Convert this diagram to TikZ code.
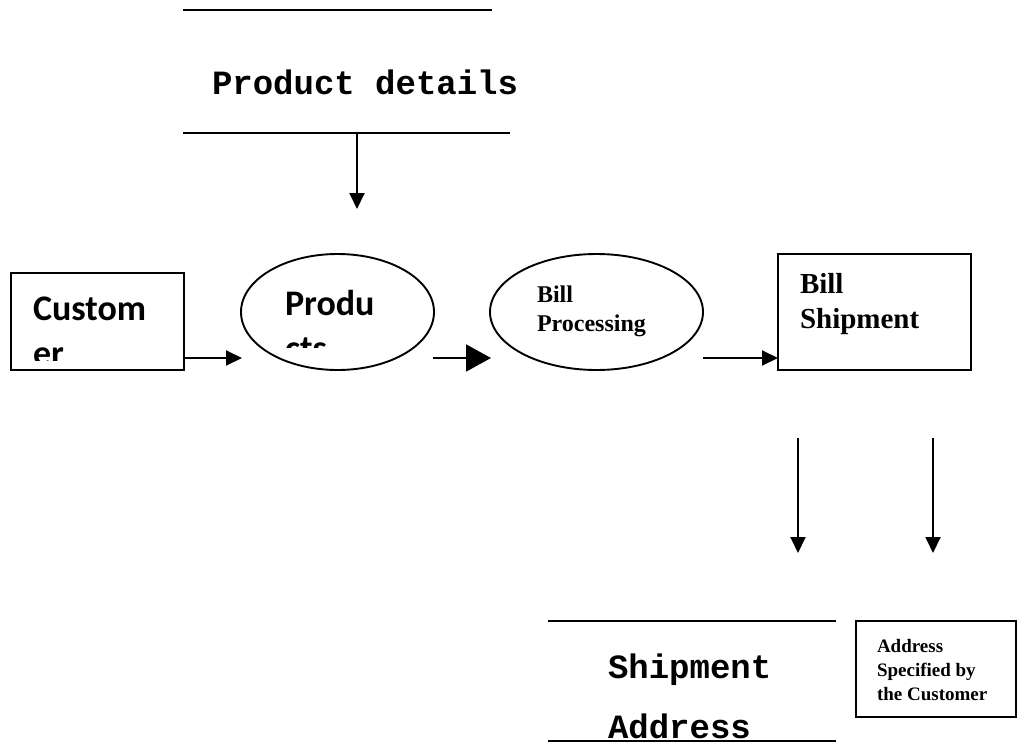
\documentclass[tikz,border=0pt]{standalone}
\usepackage{fontspec}
\setmainfont{Liberation Serif}
\newfontfamily\calibfont{Carlito}
\newfontfamily\courfont{Liberation Mono}
\usetikzlibrary{arrows.meta,shapes.geometric}
\begin{document}
\begin{tikzpicture}[x=1pt,y=-1pt,line width=1.9pt,
  lab/.style={inner sep=0pt,outer sep=0pt,anchor=base west},
  calibtxt/.style={lab,font=\calibfont\bfseries\fontsize{36}{45}\selectfont},
  courtxt/.style={lab,font=\courfont\bfseries\fontsize{34}{40}\selectfont},
  timesbig/.style={lab,font=\bfseries\fontsize{29}{35}\selectfont},
  timesmid/.style={lab,font=\bfseries\fontsize{24}{29}\selectfont},
  timessmall/.style={lab,font=\bfseries\fontsize{19}{24}\selectfont},
  boxshape/.style={draw,rectangle,inner sep=0pt,outer sep=0pt},
  ellshape/.style={draw,ellipse,inner sep=0pt,outer sep=0pt},
  arr/.style={-{Triangle[width=15pt,length=16pt]}},
  bigarr/.style={-{Triangle[width=27pt,length=25pt]}}]
\useasboundingbox (0,0) rectangle (1018,744);

% Product details data store
\coordinate (pdtl) at (183,10);
\coordinate (pdtr) at (492,10);
\coordinate (pdbl) at (183,133);
\coordinate (pdbr) at (510,133);
\draw (pdtl) -- (pdtr);
\draw (pdbl) -- (pdbr);
\node[courtxt] (pdtxt) at (212,94) {Product details};
\coordinate (pdout) at (357,133);
\coordinate (pdin) at (357,209);
\draw[arr] (pdout) -- (pdin);

% Customer
\node[boxshape,minimum width=173pt,minimum height=97pt] (cust) at (97.5,321.5) {};
\begin{scope}
\clip (11,273) rectangle (184,360);
\node[calibtxt] (custa) at (33,320) {Custom};
\node[calibtxt] (custb) at (33,365) {er};
\end{scope}

% Products
\node[ellshape,minimum width=193pt,minimum height=116pt] (prod) at (337.5,312) {};
\begin{scope}
\clip (241,254) rectangle (434,347);
\node[calibtxt] (proda) at (285,315) {Produ};
\node[calibtxt] (prodb) at (285,360) {cts};
\end{scope}

% Bill Processing
\node[ellshape,minimum width=213pt,minimum height=116pt] (billp) at (596.5,312) {};
\node[timesmid] (billpa) at (537,302) {Bill};
\node[timesmid] (billpb) at (537,331) {Processing};

% Bill Shipment
\node[boxshape,minimum width=193pt,minimum height=116pt] (bills) at (874.5,312) {};
\node[timesbig] (billsa) at (800,293) {Bill};
\node[timesbig] (billsb) at (800,328) {Shipment};

% horizontal arrows
\coordinate (a1s) at (184,358);
\coordinate (a1e) at (242,358);
\draw[arr] (a1s) -- (a1e);
\coordinate (a2s) at (433,358);
\coordinate (a2e) at (491,358);
\draw[bigarr] (a2s) -- (a2e);
\coordinate (a3s) at (703,358);
\coordinate (a3e) at (779,358);
\draw[arr] (a3s) -- (bills.west |- a3e);

% down arrows
\coordinate (d1s) at (798,438);
\coordinate (d1e) at (798,553);
\draw[arr] (d1s) -- (d1e);
\coordinate (d2s) at (933,438);
\coordinate (d2e) at (933,553);
\draw[arr] (d2s) -- (d2e);

% Shipment Address data store
\coordinate (satl) at (548,621);
\coordinate (satr) at (836,621);
\coordinate (sabl) at (548,741);
\coordinate (sabr) at (836,741);
\draw (satl) -- (satr);
\draw (sabl) -- (sabr);
\node[courtxt] (satxa) at (608,678) {Shipment};
\node[courtxt] (satxb) at (608,738) {Address};

% Address specified box
\node[boxshape,minimum width=160pt,minimum height=96pt] (addr) at (936,669) {};
\node[timessmall] (addra) at (877,652) {Address};
\node[timessmall] (addrb) at (877,676) {Specified by};
\node[timessmall] (addrc) at (877,700) {the Customer};
\end{tikzpicture}
\end{document}
